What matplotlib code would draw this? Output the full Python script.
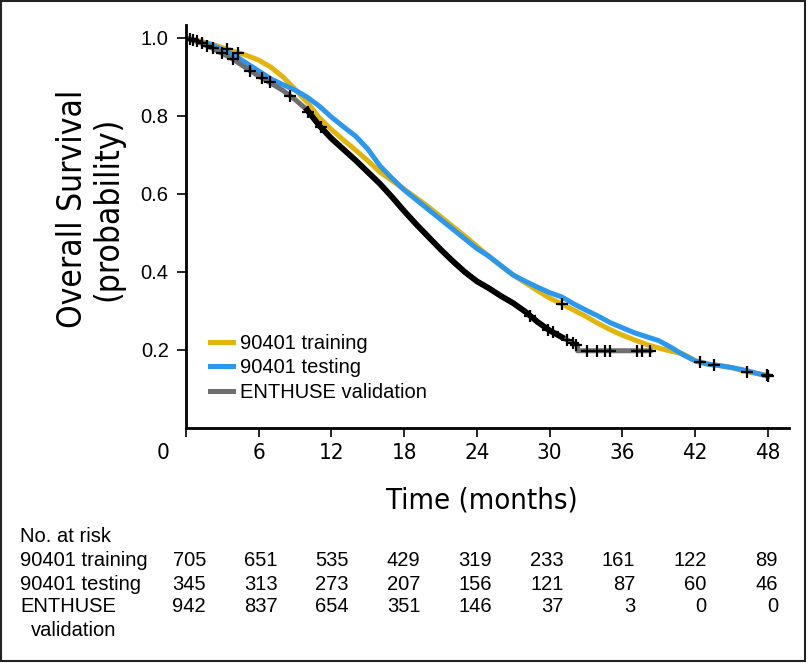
import numpy as np
import matplotlib
matplotlib.use("Agg")
import matplotlib.pyplot as plt
from matplotlib.transforms import ScaledTranslation
from matplotlib.patches import Rectangle

plt.rcParams['font.family'] = ['Liberation Sans', 'DejaVu Sans']
NARROW = dict(family='DejaVu Sans', fontstretch='condensed')

# survival, one value per month
months = list(range(0, 49))
training = [1.0, 0.993, 0.985, 0.975, 0.965, 0.955, 0.943, 0.925, 0.9, 0.868,
            0.835, 0.795, 0.765, 0.738, 0.712, 0.685, 0.656, 0.634, 0.612, 0.59,
            0.567, 0.542, 0.517, 0.492, 0.466, 0.44, 0.415, 0.392, 0.372, 0.352,
            0.333, 0.318, 0.302, 0.286, 0.268, 0.252, 0.238, 0.226, 0.214, 0.205,
            0.197, 0.19, 0.173, 0.164, 0.16, 0.155, 0.146, 0.14, 0.135]
testing = [1.0, 0.99, 0.983, 0.97, 0.955, 0.935, 0.915, 0.895, 0.88, 0.866,
           0.848, 0.825, 0.797, 0.772, 0.748, 0.715, 0.672, 0.64, 0.61, 0.585,
           0.56, 0.535, 0.51, 0.485, 0.46, 0.44, 0.416, 0.392, 0.376, 0.361,
           0.347, 0.336, 0.318, 0.302, 0.287, 0.27, 0.257, 0.244, 0.234, 0.224,
           0.207, 0.188, 0.172, 0.164, 0.16, 0.155, 0.149, 0.141, 0.133]
enthuse_months = list(range(0, 33)) + [32.3, 32.3, 38.3]
enthuse = [1.0, 0.99, 0.976, 0.96, 0.943, 0.922, 0.902, 0.884, 0.865, 0.842,
           0.815, 0.775, 0.742, 0.714, 0.686, 0.656, 0.626, 0.592, 0.556, 0.522,
           0.49, 0.458, 0.428, 0.4, 0.376, 0.358, 0.338, 0.32, 0.298, 0.272,
           0.25, 0.233, 0.216, 0.213, 0.198, 0.198]

censor_training = [3.4, 4.3, 31.0, 42.4, 46.3, 47.9]
censor_testing = [43.6, 48.0]
censor_enthuse = [0.3, 0.6, 0.9, 1.3, 1.7, 2.2, 3.0, 3.9, 5.3, 6.3, 6.9, 8.6,
                  10.1, 11.1, 28.4, 29.9, 30.3, 31.4, 31.9, 32.2, 33.1, 33.9,
                  34.6, 35.0, 37.2, 37.6, 38.3]

risk_months = [0, 6, 12, 18, 24, 30, 36, 42, 48]
risk_training = [705, 651, 535, 429, 319, 233, 161, 122, 89]
risk_testing = [345, 313, 273, 207, 156, 121, 87, 60, 46]
risk_enthuse = [942, 837, 654, 351, 146, 37, 3, 0, 0]

yellow = '#E3B50A'
blue = '#2A98EE'
grey = '#6E6E6E'

W, H = 809, 663
def fx(px):
    return px / W
def fy(py):
    return 1 - py / H

fig = plt.figure(figsize=(W / 100, H / 100), dpi=100)
ax = fig.add_axes([fx(186), fy(428), (789 - 186) / W, (428 - 25) / H])

ax.plot(months, training, color=yellow, lw=3.6, label='90401 training')
ax.plot(months, testing, color=blue, lw=3.6, label='90401 testing')
ax.plot(enthuse_months, enthuse, color=grey, lw=3.6, label='ENTHUSE validation')

# dense censoring makes the middle of the ENTHUSE curve look black
et = np.array(enthuse_months, dtype=float)
es = np.array(enthuse)
dense = (et >= 10) & (et <= 31)
ax.plot(et[dense], es[dense], color='black', lw=4.2)

for times, xs, ys in [(censor_training, months, training),
                      (censor_testing, months, testing),
                      (censor_enthuse, enthuse_months, enthuse)]:
    ax.plot(times, np.interp(times, xs, ys), ls='none', marker='+',
            ms=8, mew=1.6, color='black')

ax.set_xlim(0, 49.75)
ax.set_ylim(0, 1.033)
ax.spines['top'].set_visible(False)
ax.spines['right'].set_visible(False)
ax.spines['left'].set_linewidth(2)
ax.spines['bottom'].set_linewidth(2)

ax.set_yticks([0.2, 0.4, 0.6, 0.8, 1.0])
ax.set_yticklabels(['0.2', '0.4', '0.6', '0.8', '1.0'], fontsize=14.5)
ax.set_xticks(risk_months)
ax.set_xticklabels([str(m) for m in risk_months], fontsize=16, **NARROW)
ax.tick_params(axis='y', length=6.5, width=1.2, pad=6)
ax.tick_params(axis='x', length=6.5, width=1.2, pad=4)
lab0 = ax.get_xticklabels()[0]
lab0.set_transform(lab0.get_transform() + ScaledTranslation(-0.23, 0, fig.dpi_scale_trans))

ax.legend(loc='upper left', bbox_to_anchor=((210 - 186) / 603, (428 - 334) / 403),
          frameon=False, fontsize=14.5, handlelength=1.15, handletextpad=0.35,
          labelspacing=0.27, borderpad=0, borderaxespad=0)

fig.text(fx(90), fy(209), 'Overall Survival\n(probability)', rotation=90,
         ha='center', va='center', fontsize=24, linespacing=1.1, **NARROW)
fig.text(fx(482), fy(500), 'Time (months)', ha='center', va='center',
         fontsize=21, **NARROW)

# number at risk table
fig.text(fx(20), fy(536), 'No. at risk', fontsize=14.5, va='center')
rows = [('90401 training', risk_training, 560),
        ('90401 testing', risk_testing, 584),
        ('ENTHUSE', risk_enthuse, 607)]
for name, counts, y in rows:
    fig.text(fx(20), fy(y), name, fontsize=14.5, va='center')
    for i, n in enumerate(counts):
        fig.text(fx(206 + i * 71.5), fy(y), str(n), fontsize=14.5,
                 ha='right', va='center')
fig.text(fx(31), fy(630), 'validation', fontsize=14.5, va='center')

fig.patches.append(Rectangle((fx(1), fy(661)), (805 - 1) / W, (661 - 1) / H,
                             transform=fig.transFigure, fill=False,
                             lw=1.5, ec='#222222'))

fig.savefig('out.png', dpi=100)
